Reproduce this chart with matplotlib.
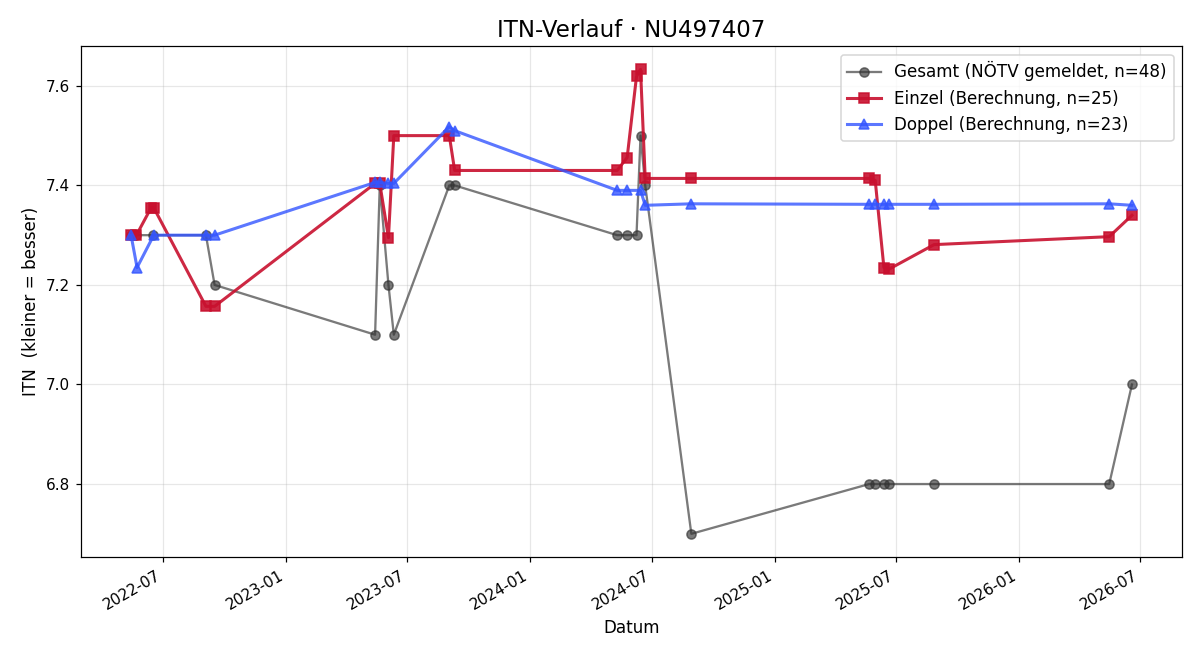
import matplotlib
matplotlib.use('Agg')
import matplotlib.pyplot as plt
import matplotlib.dates as mdates
import pandas as pd

# Gesamt (NÖTV gemeldet)
ges_dates = ['2022-05-14', '2022-05-22', '2022-06-16', '2022-09-03', '2022-09-16',
             '2023-05-14', '2023-05-21', '2023-06-03', '2023-06-11', '2023-09-02',
             '2023-09-10', '2024-05-10', '2024-05-25', '2024-06-08', '2024-06-14',
             '2024-06-21', '2024-08-29', '2025-05-22', '2025-05-31', '2025-06-13',
             '2025-06-21', '2025-08-27', '2026-05-16', '2026-06-19']
ges_vals = [7.3, 7.3, 7.3, 7.3, 7.2,
            7.1, 7.4, 7.2, 7.1, 7.4,
            7.4, 7.3, 7.3, 7.3, 7.5,
            7.4, 6.7, 6.8, 6.8, 6.8,
            6.8, 6.8, 6.8, 7.0]

# Einzel (Berechnung)
ein_dates = ['2022-05-14', '2022-05-22', '2022-06-13', '2022-06-17', '2022-09-03',
             '2022-09-16', '2023-05-14', '2023-05-21', '2023-06-03', '2023-06-11',
             '2023-09-02', '2023-09-10', '2024-05-10', '2024-05-25', '2024-06-08',
             '2024-06-14', '2024-06-21', '2024-08-29', '2025-05-22', '2025-05-31',
             '2025-06-13', '2025-06-21', '2025-08-27', '2026-05-16', '2026-06-19']
ein_vals = [7.30, 7.30, 7.355, 7.355, 7.157,
            7.157, 7.404, 7.404, 7.295, 7.50,
            7.50, 7.43, 7.43, 7.456, 7.619,
            7.633, 7.414, 7.414, 7.414, 7.41,
            7.235, 7.232, 7.281, 7.297, 7.34]

# Doppel (Berechnung)
dop_dates = ['2022-05-14', '2022-05-23', '2022-06-17', '2022-09-03', '2022-09-16',
             '2023-05-14', '2023-05-21', '2023-06-03', '2023-06-11', '2023-09-02',
             '2023-09-10', '2024-05-10', '2024-05-25', '2024-06-14', '2024-06-21',
             '2024-08-29', '2025-05-22', '2025-05-31', '2025-06-13', '2025-06-21',
             '2025-08-27', '2026-05-16', '2026-06-19']
dop_vals = [7.30, 7.235, 7.30, 7.30, 7.30,
            7.406, 7.406, 7.404, 7.404, 7.518,
            7.51, 7.39, 7.39, 7.39, 7.36,
            7.363, 7.362, 7.362, 7.362, 7.362,
            7.362, 7.363, 7.36]

ges_dates = pd.to_datetime(ges_dates)
ein_dates = pd.to_datetime(ein_dates)
dop_dates = pd.to_datetime(dop_dates)

fig, ax = plt.subplots(figsize=(1200 / 110, 660 / 110), dpi=110)

ax.plot(ges_dates, ges_vals, marker='o', color='#333333', alpha=0.65,
        lw=1.5, ms=6, label='Gesamt (NÖTV gemeldet, n=48)')
ax.plot(ein_dates, ein_vals, marker='s', color='#c8102e', alpha=0.9,
        lw=2, ms=6.5, label='Einzel (Berechnung, n=25)')
ax.plot(dop_dates, dop_vals, marker='^', color='#3355ff', alpha=0.8,
        lw=2, ms=6.5, label='Doppel (Berechnung, n=23)')

ax.set_title('ITN-Verlauf · NU497407', fontsize=15)
ax.set_xlabel('Datum', fontsize=11)
ax.set_ylabel('ITN  (kleiner = besser)', fontsize=11)
ax.xaxis.set_major_locator(mdates.MonthLocator(bymonth=[1, 7]))
ax.xaxis.set_major_formatter(mdates.DateFormatter('%Y-%m'))
ax.grid(True, alpha=0.3)
ax.legend(loc='upper right', fontsize=11)
fig.autofmt_xdate()
fig.subplots_adjust(left=0.0675, right=0.985, top=0.930, bottom=0.156)
fig.savefig('out.png')
